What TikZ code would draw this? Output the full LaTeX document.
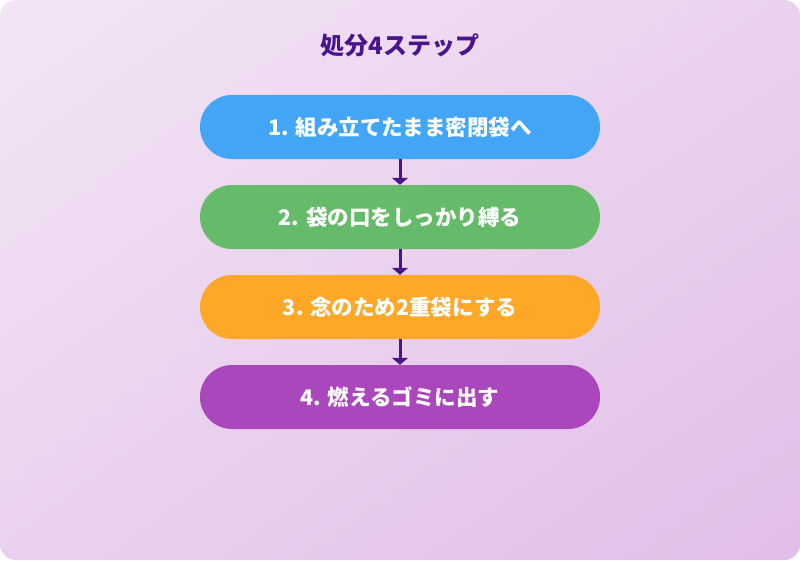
\documentclass[tikz,border=0pt]{standalone}
\usepackage{fontspec}
\setmainfont{Noto Sans CJK JP}
\usetikzlibrary{arrows.meta,shadings}

\definecolor{bgtop}{RGB}{243,229,245}
\definecolor{bgmid}{RGB}{234,210,238}
\definecolor{bgbot}{RGB}{225,190,231}
\definecolor{titlepurple}{RGB}{74,20,140}
\definecolor{stepblue}{RGB}{66,165,245}
\definecolor{stepgreen}{RGB}{102,187,106}
\definecolor{steporange}{RGB}{255,167,38}
\definecolor{steppurple}{RGB}{171,71,188}

\begin{document}
\begin{tikzpicture}[
	x=1pt, y=-1pt,
	stepbox/.style={
		rectangle,
		rounded corners=32pt,
		minimum width=400pt,
		minimum height=64pt,
		text=white,
		font=\fontsize{21.5}{24}\selectfont\bfseries,
		align=center,
	},
	flow/.style={
		-{Triangle[width=16pt,length=7pt]},
		line width=3pt,
		color=titlepurple,
	},
]

\shade[rounded corners=16pt, upper left=bgtop, upper right=bgmid, lower left=bgmid, lower right=bgbot] (0,0) rectangle (800,560);
\useasboundingbox (0,0) rectangle (800,560);

\node[font=\fontsize{24}{26}\selectfont\bfseries, text=titlepurple] (title) at (400,45) {処分4ステップ};

\node[stepbox, fill=stepblue] (s1) at (400,127) {1. 組み立てたまま密閉袋へ};
\node[stepbox, fill=stepgreen] (s2) at (400,217) {2. 袋の口をしっかり縛る};
\node[stepbox, fill=steporange] (s3) at (400,307) {3. 念のため2重袋にする};
\node[stepbox, fill=steppurple] (s4) at (400,397) {4. 燃えるゴミに出す};

\draw[flow] (s1.south) -- (s2.north);
\draw[flow] (s2.south) -- (s3.north);
\draw[flow] (s3.south) -- (s4.north);

\end{tikzpicture}
\end{document}
